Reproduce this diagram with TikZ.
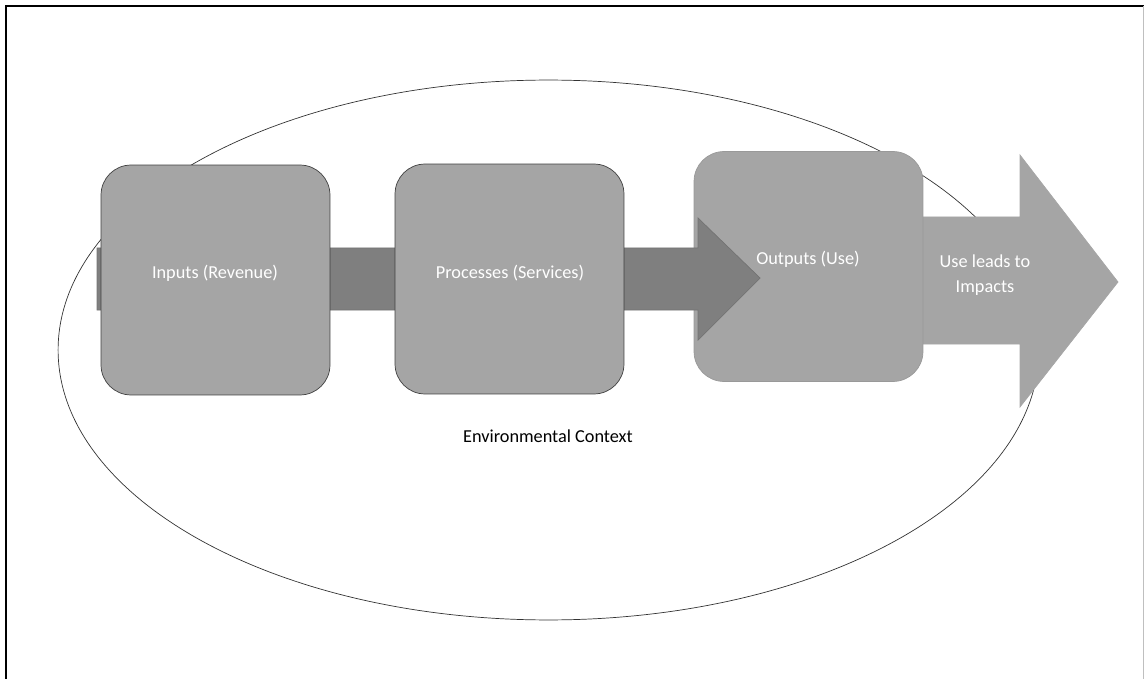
\documentclass[tikz,border=0pt]{standalone}
\usepackage{fontspec}
\setmainfont{Carlito}
\usetikzlibrary{positioning}
\definecolor{boxgray}{HTML}{A5A5A5}
\definecolor{flowgray}{HTML}{7F7F7F}
\tikzset{
  stage/.style={draw=black!75, fill=boxgray, rounded corners=0.6cm,
    minimum width=4.58cm, minimum height=4.6cm},
  label/.style={font=\fontsize{10.4}{14}\selectfont}
}
\begin{document}
\begin{tikzpicture}[x=0.02cm, y=-0.02cm]
\useasboundingbox (0,0) rectangle (1144,679);
\draw[line width=1.2pt] (6,679) -- (6,6) -- (1144,6);
\draw[black!25] (1143,6) -- (1143,679);
\draw[black!80] (548.5,350) ellipse [x radius=9.81cm, y radius=5.4cm];
% impacts arrow
\filldraw[fill=boxgray, draw=black!35] (920,217) -- (1020,217) -- (1020,155) -- (1118,282)
  -- (1020,407) -- (1020,344) -- (920,344) -- cycle;
\node[stage, draw=black!40] (out) at (808.5,266.5) {};
% flow arrow, over the outputs box
\filldraw[fill=flowgray, draw=black!55] (97,248) -- (698,248) -- (698,218) -- (760,278)
  -- (698,340) -- (698,310) -- (97,310) -- cycle;
\node[stage] (in) at (215.5,280) {};
\node[stage] (proc) at (509.5,279) {};
\node[label, text=white] (in text) at (215,273) {Inputs (Revenue)};
\node[label, text=white] (proc text) at (510,273) {Processes (Services)};
\node[label, text=white] (out text) at (808,259) {Outputs (Use)};
\node[label, text=white, align=center] (impact) at (985,275) {Use leads to\\Impacts};
\node[label] (env) at (548,436) {Environmental Context};
\end{tikzpicture}
\end{document}
